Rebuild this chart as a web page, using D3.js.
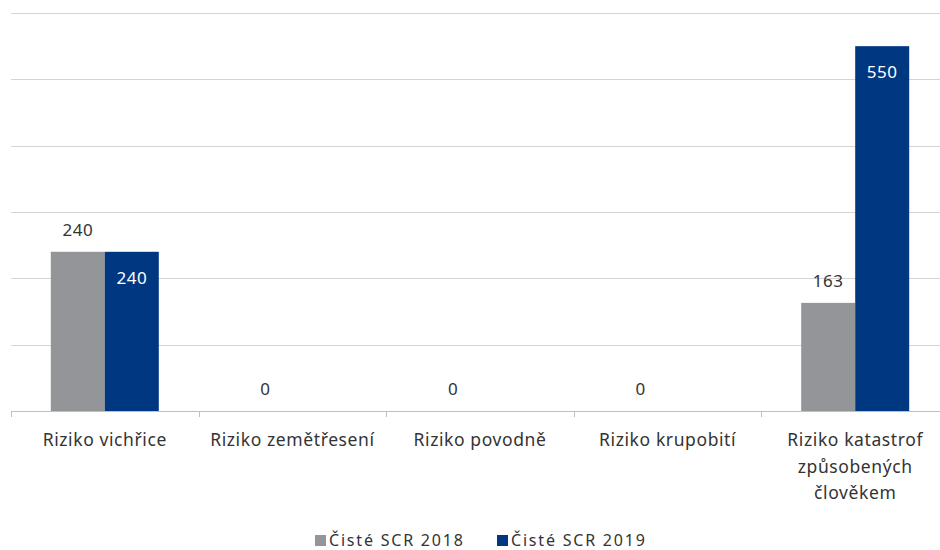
<!DOCTYPE html>
<html>
<head>
<meta charset="utf-8">
<script src="https://cdn.jsdelivr.net/npm/d3@7"></script>
<style>
  html, body { margin: 0; padding: 0; background: #fff; }
  svg { display: block; }
  text { font-family: "Noto Sans", sans-serif; }
</style>
</head>
<body>
<svg id="chart" width="940" height="550"></svg>
<script>
// Catastrophe risk sub-modules, net SCR by year
const categories = [
  ["Riziko vichřice"],
  ["Riziko zemětřesení"],
  ["Riziko povodně"],
  ["Riziko krupobití"],
  ["Riziko katastrof", "způsobených", "člověkem"]
];
const seriesNames = ["Čisté SCR 2018", "Čisté SCR 2019"];
const scr2018 = [240, 0, 0, 0, 163];
const scr2019 = [240, 0, 0, 0, 550];
const gridTicks = [0, 100, 200, 300, 400, 500, 600];

const colors = ["#939598", "#003781"];
const svg = d3.select("#chart");

const x = d3.scaleBand()
  .domain(d3.range(categories.length))
  .range([11, 949])
  .paddingInner(0)
  .paddingOuter(0);

const y = d3.scaleLinear().domain([0, 600]).range([411, 13]);

const groupW = 108;
const xs = d3.scaleBand().domain([0, 1]).range([0, groupW]);

// horizontal gridlines
svg.append("g")
  .selectAll("line")
  .data(gridTicks.filter(d => d > 0))
  .join("line")
  .attr("x1", 11).attr("x2", 940)
  .attr("y1", d => Math.round(y(d)) + 0.5)
  .attr("y2", d => Math.round(y(d)) + 0.5)
  .attr("stroke", "#d4d4d4")
  .attr("stroke-width", 1.2);

const series = [scr2018, scr2019];

const groups = svg.append("g")
  .selectAll("g")
  .data(categories.map((c, i) => i))
  .join("g")
  .attr("transform", i => `translate(${x(i) + (x.bandwidth() - groupW) / 2},0)`);

groups.selectAll("rect")
  .data(i => series.map((s, k) => ({ k, v: s[i] })))
  .join("rect")
  .attr("x", d => xs(d.k))
  .attr("width", xs.bandwidth())
  .attr("y", d => y(d.v))
  .attr("height", d => y(0) - y(d.v))
  .attr("fill", d => colors[d.k]);

// value labels: 2018 above the bar, 2019 inside the top
groups.selectAll("text.val")
  .data(i => series.map((s, k) => ({ k, v: s[i] })).filter(d => d.k === 0 || d.v > 0))
  .join("text")
  .attr("class", "val")
  .attr("x", d => xs(d.k) + xs.bandwidth() / 2)
  .attr("y", d => d.k === 0 ? y(d.v) - 16 : y(d.v) + 32)
  .attr("text-anchor", "middle")
  .attr("font-size", 17)
  .attr("letter-spacing", 0.5)
  .attr("fill", d => d.k === 0 ? "#333" : "#fff")
  .text(d => d.v);

// category axis
const axis = svg.append("g").attr("transform", `translate(0,${y(0)})`);
axis.append("line")
  .attr("x1", 11).attr("x2", 940)
  .attr("y1", 0.5).attr("y2", 0.5)
  .attr("stroke", "#bfbfbf").attr("stroke-width", 1.2);
axis.selectAll("line.tick")
  .data(d3.range(categories.length))
  .join("line")
  .attr("class", "tick")
  .attr("x1", i => Math.round(x(i)) + 0.5)
  .attr("x2", i => Math.round(x(i)) + 0.5)
  .attr("y1", 0).attr("y2", 6)
  .attr("stroke", "#bfbfbf");

const labels = axis.selectAll("text.cat")
  .data(categories)
  .join("text")
  .attr("class", "cat")
  .attr("text-anchor", "middle")
  .attr("font-size", 17.5)
  .attr("letter-spacing", 0.6)
  .attr("fill", "#333")
  .attr("transform", (d, i) => `translate(${x(i) + x.bandwidth() / 2},35)`);
labels.selectAll("tspan")
  .data(d => d)
  .join("tspan")
  .attr("x", 0)
  .attr("dy", (d, j) => j === 0 ? 0 : 26.5)
  .text(d => d);

// legend
const legend = svg.append("g").attr("transform", "translate(315,546)");
const legendX = [0, 182];
seriesNames.forEach((name, k) => {
  const g = legend.append("g").attr("transform", `translate(${legendX[k]},0)`);
  g.append("rect").attr("x", 0).attr("y", -11).attr("width", 11).attr("height", 11).attr("fill", colors[k]);
  g.append("text").attr("x", 14).attr("y", 0)
    .attr("font-family", "'DejaVu Sans', sans-serif")
    .attr("font-size", 16).attr("letter-spacing", 1.8)
    .attr("fill", "#333").text(name);
});
</script>
</body>
</html>
